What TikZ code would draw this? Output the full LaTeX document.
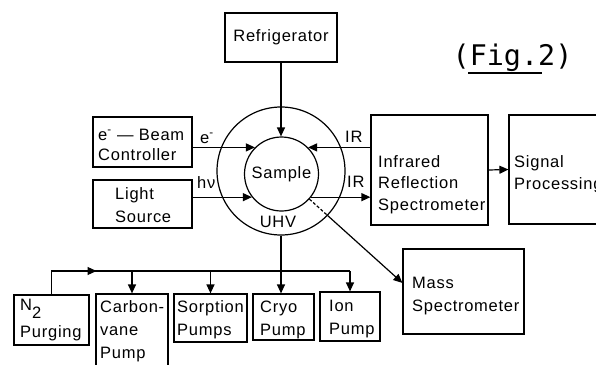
\documentclass[tikz,border=0pt]{standalone}
\usepackage{fontspec}
\setmainfont{Liberation Sans}[LetterSpace=4.5]
\newfontfamily\figfont{DejaVu Sans Mono}
\usetikzlibrary{arrows.meta,calc}
\begin{document}
\begin{tikzpicture}[x=1pt,y=-1pt,
  ln/.style={line width=1.2pt},
  box/.style={draw, line width=1.2pt, inner sep=0pt, rectangle, font=\fontsize{16.5}{23}\selectfont},
  txt/.style={anchor=base west, inner sep=0pt, font=\fontsize{16.5}{23}\selectfont},
  arr/.style={line width=1.2pt, -{Triangle[length=9pt,width=8pt]}}]
\useasboundingbox (0,0) rectangle (596,364);
\clip (0,0) rectangle (596,364);

% boxes
\node[box, minimum width=112pt, minimum height=49pt] (refr) at (281,37.5) {Refrigerator};
\node[box, minimum width=99pt, minimum height=50pt] (beam) at (142.5,142) {};
\node[box, minimum width=99pt, minimum height=48pt] (light) at (142.5,204) {};
\node[box, minimum width=117pt, minimum height=110pt] (irs) at (429.5,170) {};
\node[box, minimum width=111pt, minimum height=109pt] (sp) at (564.5,169.5) {};
\node[box, minimum width=121pt, minimum height=85pt] (mass) at (463.5,291.5) {};
\node[box, minimum width=75pt, minimum height=50pt] (n2) at (51.5,320) {};
\node[box, minimum width=72pt, minimum height=86pt] (carbon) at (132,337) {};
\node[box, minimum width=73pt, minimum height=48pt] (sorp) at (210.5,318) {};
\node[box, minimum width=61pt, minimum height=46pt] (cryo) at (283.5,317) {};
\node[box, minimum width=60pt, minimum height=49pt] (ion) at (350,316.5) {};

% chamber
\node[circle, draw, ln, minimum size=128pt, inner sep=0pt] (outer) at (281,171) {};
\node[circle, draw, ln, minimum size=74pt, inner sep=0pt, font=\fontsize{16.5}{23}\selectfont] (inner) at (281.5,174) {Sample};
\node[anchor=base, inner sep=0pt, font=\fontsize{16.5}{23}\selectfont] (uhv) at (278,227) {UHV};

% texts
\node[txt] (beamA) at (98,140) {e\textsuperscript{-} — Beam};
\node[txt] (beamB) at (98,160) {Controller};
\node[txt] (lightA) at (115,199) {Light};
\node[txt] (lightB) at (115,222) {Source};
\node[txt] (elab) at (200,143) {e\textsuperscript{-}};
\node[txt] (hlab) at (197,188) {hν};
\node[txt] (irA) at (345,142) {IR};
\node[txt] (irB) at (347,187) {IR};
\node[txt] (irsA) at (378,167) {Infrared};
\node[txt] (irsB) at (378,188.5) {Reflection};
\node[txt] (irsC) at (378,210) {Spectrometer};
\node[txt] (spA) at (514,167) {Signal};
\node[txt] (spB) at (514,189) {Processing};
\node[txt] (msA) at (412,288) {Mass};
\node[txt] (msB) at (412,311) {Spectrometer};
\node[txt] (n2A) at (20,310) {N\raisebox{-8.4pt}{2}};
\node[txt] (n2B) at (20,337) {Purging};
\node[txt] (cbA) at (100,312) {Carbon-};
\node[txt] (cbB) at (100,335) {vane};
\node[txt] (cbC) at (100,358) {Pump};
\node[txt] (soA) at (177,312) {Sorption};
\node[txt] (soB) at (177,335) {Pumps};
\node[txt] (crA) at (260,312) {Cryo};
\node[txt] (crB) at (260,335) {Pump};
\node[txt] (ioA) at (329,311) {Ion};
\node[txt] (ioB) at (329,334) {Pump};

\node[anchor=base west, inner sep=0pt, font=\figfont\fontsize{28.4}{30}\selectfont] (fig) at (452.5,65) {(Fig.2)};
\draw[line width=1.1pt] ($(fig.base west)+(15.5,8)$) -- ++(74,0);

% connectors
\draw[arr] (refr.south) -- (refr.south |- inner.north);
\draw[arr] (beam.east |- inner.135) -- (inner.135);
\draw[arr] (light.east |- inner.218) -- (inner.218);
\draw[arr] (irs.west |- inner.45) -- (inner.45);
\draw[arr] (inner.-38) -- (inner.-38 -| irs.west);
\draw[arr] (irs.east) -- (sp.west);
\draw[ln, dash pattern=on 3pt off 2pt] (inner.-42) -- ($(inner.-42)!0.195!(mass.172)$);
\draw[arr] ($(inner.-42)!0.195!(mass.172)$) -- (mass.172);

\coordinate (bus) at (0,271);
\draw[ln] (n2.north) -- (n2.north |- bus) -- (ion.north |- bus);
\draw[arr] (n2.north |- bus) -- ($(n2.north |- bus)+(45,0)$);
\draw[arr] (carbon.north |- bus) -- (carbon.north);
\draw[arr] (sorp.north |- bus) -- (sorp.north);
\draw[arr] (ion.north |- bus) -- (ion.north);
\draw[arr] (outer.south) -- (outer.south |- cryo.north);
\end{tikzpicture}
\end{document}
